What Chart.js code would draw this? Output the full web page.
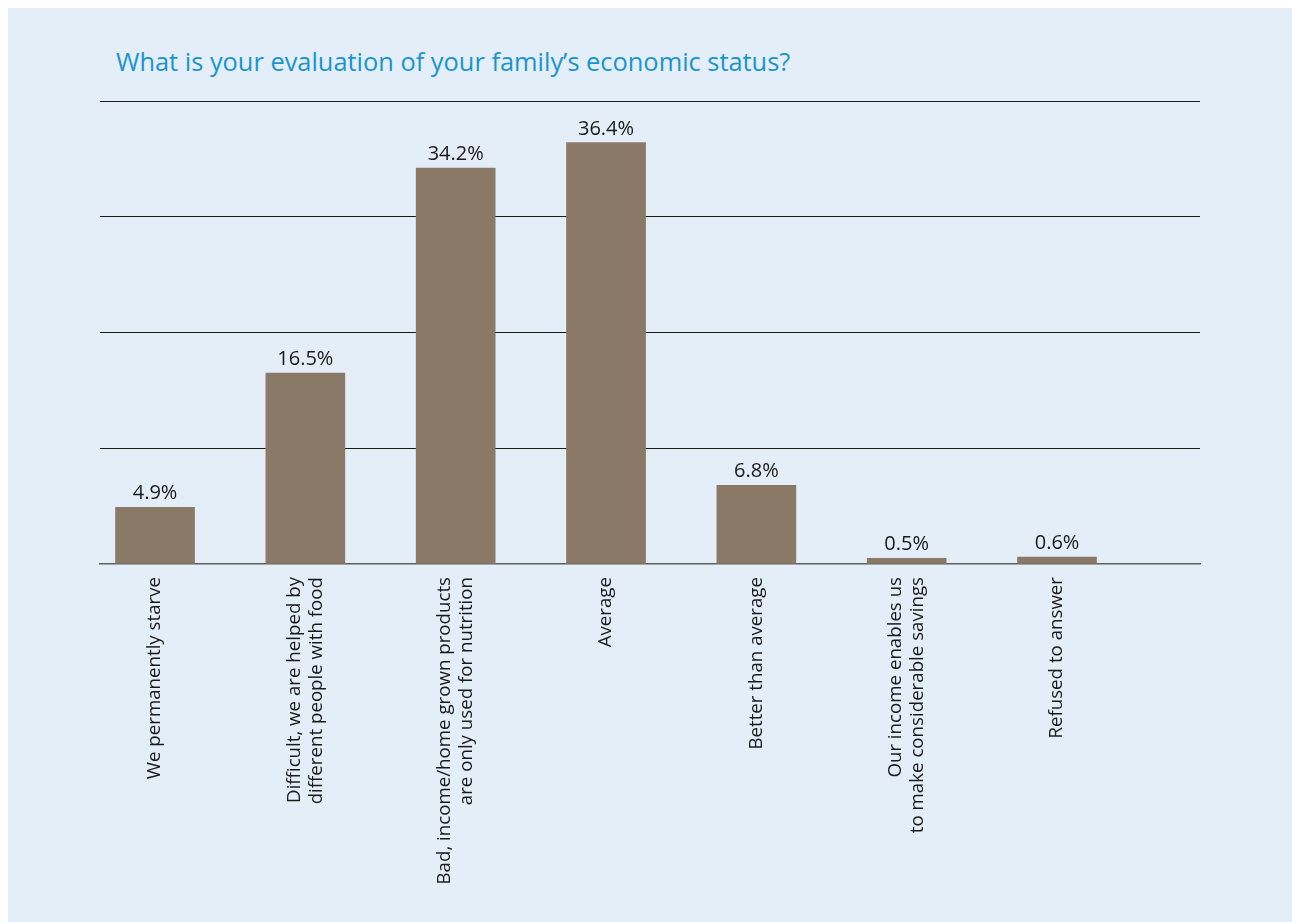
<!DOCTYPE html>
<html>
<head>
<meta charset="utf-8">
<title>Family economic status</title>
<script src="https://cdn.jsdelivr.net/npm/chart.js@4.4.1/dist/chart.umd.min.js"></script>
<style>
  body { margin: 0; background: #fff; }
  .panel { position: absolute; left: 8px; top: 8px; width: 1284px; height: 914px; background: #e4eef8; }
  .panel h2 { position: absolute; left: 108px; top: 36px; margin: 0; font: 400 25.4px "Open Sans", sans-serif; color: #1a94cf; white-space: nowrap; }
  canvas { position: absolute; left: 0; top: 0; }
</style>
</head>
<body>
<div class="panel">
  <h2>What is your evaluation of your family’s economic status?</h2>
  <canvas id="statusChart" width="1284" height="914"></canvas>
</div>
<script>
// answers, in the order they appear along the axis
const categories = [
  "We permanently starve",
  ["Difficult, we are helped by", "different people with food"],
  ["Bad, income/home grown products", "are only used for nutrition"],
  "Average",
  "Better than average",
  ["Our income enables us", "to make considerable savings"],
  "Refused to answer"
];
// share of respondents, %
const shares = [4.9, 16.5, 34.2, 36.4, 6.8, 0.5, 0.6];
const gridSteps = [0, 10, 20, 30, 40];

const labelSize = 18.7;
const labelLineHeight = 1.17;

// percentage printed above each bar
const valueLabels = {
  id: 'valueLabels',
  afterDatasetsDraw(chart) {
    let ctx = chart.ctx;
    let meta = chart.getDatasetMeta(0);
    ctx.save();
    ctx.font = '20px "Open Sans"';
    ctx.fillStyle = '#1a1a1a';
    ctx.textAlign = 'center';
    ctx.textBaseline = 'alphabetic';
    meta.data.forEach((bar, i) => {
      ctx.fillText(shares[i].toFixed(1) + '%', bar.x, bar.y - 8);
    });
    ctx.restore();
  }
};

// rotated multi-line labels start at the tick; shift them so the block is centred on it
const centreLabels = {
  id: 'centreLabels',
  beforeDraw(chart) {
    let lh = labelSize * labelLineHeight;
    chart.scales.x.getLabelItems(chart.chartArea).forEach(item => {
      let n = Array.isArray(item.label) ? item.label.length : 1;
      item.textOffset -= (n - 1) * lh / 2;
    });
  }
};

new Chart(document.getElementById('statusChart'), {
  type: 'bar',
  data: {
    datasets: [{
      data: shares.map((v, i) => ({ x: i, y: v })),
      backgroundColor: '#8a7966',
      barThickness: 79
    }]
  },
  options: {
    responsive: false,
    animation: false,
    layout: { padding: { left: 92, right: 92, top: 93, bottom: 0 } },
    plugins: {
      legend: { display: false },
      tooltip: { enabled: false }
    },
    scales: {
      x: {
        type: 'linear',
        offset: false,
        min: -0.366,
        max: 6.951,
        z: 1,
        grid: { display: false, drawTicks: false },
        border: { display: true, color: '#5f5f5f', width: 1.5 },
        afterBuildTicks: axis => {
          axis.ticks = categories.map((c, i) => ({ value: i }));
        },
        afterFit: axis => { axis.height = 358; },
        ticks: {
          autoSkip: false,
          minRotation: 90,
          maxRotation: 90,
          padding: 13,
          color: '#1a1a1a',
          font: { family: '"Open Sans"', size: labelSize, lineHeight: labelLineHeight },
          callback: value => categories[value]
        }
      },
      y: {
        min: 0,
        max: 40,
        afterBuildTicks: axis => {
          axis.ticks = gridSteps.map(v => ({ value: v }));
        },
        grid: {
          drawTicks: false,
          lineWidth: 1,
          color: c => c.tick.value === 0 ? 'rgba(0,0,0,0)' : '#1a1a1a'
        },
        border: { display: false },
        ticks: { display: false }
      }
    }
  },
  plugins: [valueLabels, centreLabels]
});
</script>
</body>
</html>
